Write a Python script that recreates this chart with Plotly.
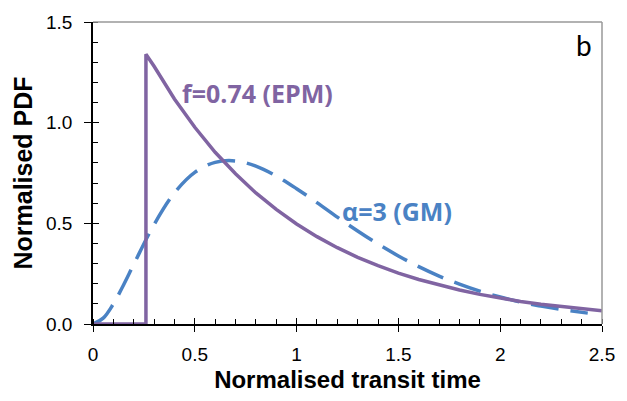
import plotly.graph_objects as go

# Exponential piston-flow model (f = 0.74)
epm_t = [0.0, 0.26, 0.26, 0.3, 0.4, 0.5, 0.6, 0.7, 0.8, 0.9, 1.0, 1.1, 1.2, 1.3, 1.4,
         1.5, 1.6, 1.7, 1.8, 1.9, 2.0, 2.1, 2.2, 2.3, 2.4, 2.5]
epm_pdf = [0.0, 0.0, 1.34, 1.28, 1.118, 0.977, 0.853, 0.746, 0.651, 0.569, 0.497, 0.434,
           0.379, 0.331, 0.290, 0.253, 0.221, 0.193, 0.169, 0.147, 0.129, 0.112, 0.098,
           0.086, 0.075, 0.066]

# Gamma model (alpha = 3)
gm_t = [0.0, 0.05, 0.1, 0.15, 0.2, 0.3, 0.4, 0.5, 0.6, 0.7, 0.8, 0.9, 1.0, 1.1, 1.2, 1.3,
        1.4, 1.5, 1.6, 1.7, 1.8, 1.9, 2.0, 2.1, 2.2, 2.3, 2.43]
gm_pdf = [0.0, 0.029, 0.100, 0.194, 0.296, 0.494, 0.651, 0.753, 0.803, 0.810, 0.784,
          0.735, 0.672, 0.603, 0.531, 0.462, 0.397, 0.338, 0.285, 0.238, 0.198, 0.163,
          0.134, 0.109, 0.089, 0.072, 0.054]

x_ticks = [0, 0.5, 1, 1.5, 2, 2.5]
x_tick_text = ["0", "0.5", "1", "1.5", "2", "2.5"]
y_ticks = [0.0, 0.5, 1.0, 1.5]
y_tick_text = ["0.0", "0.5", "1.0", "1.5"]

purple = "#8064A2"
blue = "#4A82C4"

fig = go.Figure()
fig.add_trace(go.Scatter(x=gm_t, y=gm_pdf, mode="lines",
                         line=dict(color=blue, width=3.5, dash="28px,12px", shape="spline"),
                         showlegend=False, hoverinfo="skip"))
fig.add_trace(go.Scatter(x=epm_t, y=epm_pdf, mode="lines", line=dict(color=purple, width=3.5),
                         showlegend=False, hoverinfo="skip"))
# helper trace for overlay axes (inner half of crossing major ticks)
fig.add_trace(go.Scatter(x=[None], y=[None], xaxis="x2", yaxis="y2", showlegend=False, hoverinfo="skip"))

axis_font = dict(family="Liberation Sans, Arial", size=19, color="#000")

fig.update_layout(
    width=627, height=401,
    margin=dict(l=93, r=23, t=18, b=74),
    plot_bgcolor="white", paper_bgcolor="white",
    xaxis=dict(range=[0, 2.5], tickvals=x_ticks, ticktext=x_tick_text,
               ticks="outside", ticklen=6, tickwidth=1, tickcolor="#000",
               showline=True, linecolor="#000", linewidth=1.5, mirror=False,
               showgrid=False, zeroline=False, tickfont=axis_font, ticklabelstandoff=6,
               minor=dict(dtick=0.1, ticks="inside", ticklen=5, tickcolor="#000", showgrid=False),
               title=dict(text="<b>Normalised transit time</b>",
                          font=dict(family="Liberation Sans, Arial", size=24, color="#000"),
                          standoff=8)),
    yaxis=dict(range=[0, 1.5], tickvals=y_ticks, ticktext=y_tick_text,
               ticks="outside", ticklen=7, tickwidth=1, tickcolor="#000",
               showline=True, linecolor="#000", linewidth=1.5, mirror=False,
               showgrid=False, zeroline=False, tickfont=axis_font, ticklabelstandoff=8,
               minor=dict(dtick=0.1, ticks="inside", ticklen=5, tickcolor="#000", showgrid=False),
               title=dict(text="<b>Normalised PDF</b>",
                          font=dict(family="Liberation Sans, Arial", size=25, color="#000"),
                          standoff=6)),
    xaxis2=dict(overlaying="x", range=[0, 2.5], tickvals=x_ticks, ticks="inside", ticklen=6,
                tickcolor="#000", showticklabels=False, showline=False, showgrid=False,
                zeroline=False, side="bottom"),
    yaxis2=dict(overlaying="y", range=[0, 1.5], tickvals=y_ticks, ticks="inside", ticklen=6,
                tickcolor="#000", showticklabels=False, showline=False, showgrid=False,
                zeroline=False, side="left"),
    shapes=[
        dict(type="line", xref="paper", yref="paper", x0=0, x1=1, y0=1, y1=1,
             line=dict(color="#999", width=1.5)),
        dict(type="line", xref="paper", yref="paper", x0=1, x1=1, y0=0, y1=1,
             line=dict(color="#999", width=1.5)),
    ],
    annotations=[
        dict(x=0.426, y=1.146, xref="x", yref="y", text="<b>f=0.74 (EPM)</b>", showarrow=False,
             xanchor="left", yanchor="middle", font=dict(family="Open Sans", size=25, color=purple)),
        dict(x=1.213, y=0.563, xref="x", yref="y", text="<b>α=3 (GM)</b>", showarrow=False,
             xanchor="left", yanchor="middle", font=dict(family="Open Sans", size=25, color=blue)),
        dict(x=2.41, y=1.388, xref="x", yref="y", text="b", showarrow=False,
             xanchor="center", yanchor="middle", font=dict(family="Lato", size=28, color="#000")),
    ],
)

fig.write_html("out.html", config={"displayModeBar": False},
               post_script="document.body.style.margin='0';")
